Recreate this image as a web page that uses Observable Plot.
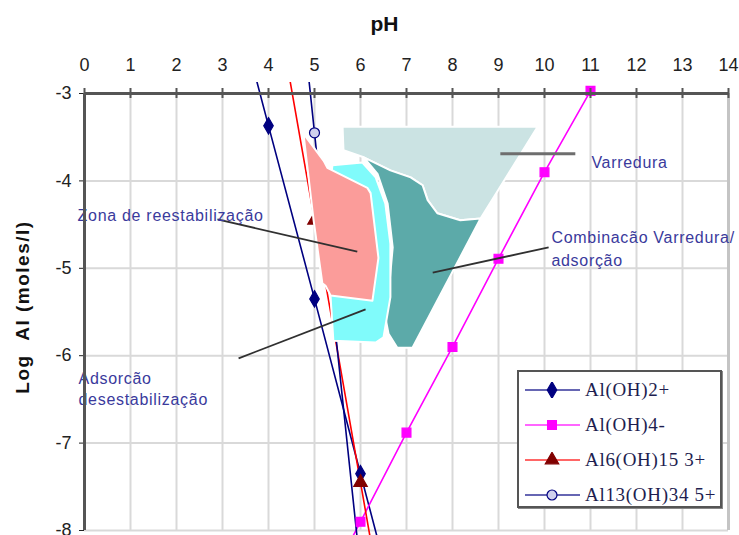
<!DOCTYPE html>
<html>
<head>
<meta charset="utf-8">
<script src="https://cdn.jsdelivr.net/npm/d3@7"></script>
<script src="https://cdn.jsdelivr.net/npm/@observablehq/plot@0.6"></script>
<style>
  body { margin: 0; background: #fff; }
  #chart { position: relative; width: 739px; height: 535px; }
  #legend {
    position: absolute; left: 517px; top: 370px; width: 205px; height: 138px;
    box-sizing: border-box; border: 2px solid #555; box-shadow: 1px 1px 0 #888;
    background: #fff; font-family: "Liberation Serif", "Times New Roman", serif;
    font-size: 19px; letter-spacing: 0.7px; color: #1e1e50; white-space: nowrap; overflow: hidden;
  }
  #legend .item { display: flex; align-items: center; height: 35px; }
  #legend svg { margin-left: 6px; margin-right: 5px; flex: none; }
</style>
</head>
<body>
<div id="chart"></div>
<script>
// Axis ticks
const xTicks = [0, 1, 2, 3, 4, 5, 6, 7, 8, 9, 10, 11, 12, 13, 14];
const yTicks = [-3, -4, -5, -6, -7, -8];

// Aluminium species solubility lines (pH, log Al)
const seriesNames = ["Al(OH)2+", "Al(OH)4-", "Al6(OH)15 3+", "Al13(OH)34 5+"];
const phAlOH2 = [3, 4, 5, 6, 7];
const logAlOH2 = [-1.37, -3.37, -5.35, -7.35, -9.35];
const phAlOH4 = [5, 6, 7, 8, 9, 10, 11];
const logAlOH4 = [-8.9, -7.9, -6.88, -5.9, -4.89, -3.9, -2.97];
const phAl6 = [4, 5, 6, 7];
const logAl6 = [-1.45, -4.45, -7.45, -10.45];
const phAl13 = [4, 5, 6];
const logAl13 = [1.55, -3.45, -8.45];

// Coagulation zones (outlines in pH, log Al)
const sweepPH = [5.61, 9.85, 8.61, 8.17, 7.67, 7.46, 7.35, 7.09, 6.65, 6.07, 5.63];
const sweepLog = [-3.38, -3.38, -4.43, -4.45, -4.37, -4.22, -4.05, -3.96, -3.88, -3.73, -3.65];
const combinedPH = [6.07, 6.65, 7.09, 7.35, 7.46, 7.67, 8.17, 8.61, 7.13, 6.80, 6.61, 6.54, 6.61, 6.70, 6.59, 6.37];
const combinedLog = [-3.73, -3.88, -3.96, -4.05, -4.22, -4.37, -4.45, -4.43, -5.91, -5.91, -5.75, -5.56, -5.29, -4.76, -4.26, -3.92];
const adsorptionPH = [5.39, 6.04, 6.33, 6.54, 6.65, 6.65, 6.50, 6.33, 5.41, 5.35, 5.30];
const adsorptionLog = [-3.82, -3.79, -3.96, -4.26, -4.72, -5.33, -5.79, -5.85, -5.83, -5.33, -4.22];
const restabPH = [4.76, 5.20, 5.28, 6.15, 6.22, 6.39, 6.26, 5.35, 5.24, 5.17, 4.98];
const restabLog = [-3.46, -3.77, -3.85, -4.08, -4.14, -4.88, -5.37, -5.31, -5.20, -5.17, -4.45];

// Zone labels and their leader lines
const labelTexts = ["Varredura", "Combinacão Varredura/", "adsorção", "Zona de reestabilização", "Adsorcão", "desestabilização"];
const labelPH = [11.02, 10.15, 10.15, -0.15, -0.13, -0.13];
const labelLog = [-3.79, -4.65, -4.91, -4.40, -6.27, -6.51];
const leaderPH1 = [9.04, 7.57, 2.89, 3.35];
const leaderLog1 = [-3.69, -5.05, -4.44, -6.03];
const leaderPH2 = [10.67, 10.09, 5.93, 6.11];
const leaderLog2 = [-3.69, -4.76, -4.81, -5.47];

const rows = (xs, ys) => xs.map((x, i) => ({x, y: ys[i]}));
const visible = d => d.y >= -8.15 && d.y <= -2.85;

const series = [
  {name: seriesNames[0], data: rows(phAlOH2, logAlOH2), line: "#000080", symbol: "diamond", fill: "#000080", stroke: "#000080"},
  {name: seriesNames[1], data: rows(phAlOH4, logAlOH4), line: "#ff00ff", symbol: "square", fill: "#ff00ff", stroke: "#ff00ff"},
  {name: seriesNames[2], data: rows(phAl6, logAl6), line: "#ff0000", symbol: "triangle", fill: "#800000", stroke: "#800000"},
  {name: seriesNames[3], data: rows(phAl13, logAl13), line: "#000080", symbol: "circle", fill: "#d0d0ee", stroke: "#000080"}
];

const zones = [
  {data: rows(sweepPH, sweepLog), fill: "#cbe3e3"},
  {data: rows(combinedPH, combinedLog), fill: "#5caaa9"},
  {data: rows(adsorptionPH, adsorptionLog), fill: "#80fbfb"},
  {data: rows(restabPH, restabLog), fill: "#fb9c9a"}
];

const labels = labelTexts.map((t, i) => ({t, x: labelPH[i], y: labelLog[i]}));
const leaders = leaderPH1.map((x1, i) => ({x1, y1: leaderLog1[i], x2: leaderPH2[i], y2: leaderLog2[i]}));

const plot = Plot.plot({
  width: 739,
  height: 535,
  marginLeft: 84,
  marginRight: 11,
  marginTop: 93,
  marginBottom: 5,
  style: {fontFamily: "'Liberation Sans', Arial, sans-serif", fontSize: "18px", color: "#222", background: "#fff"},
  x: {domain: [0, 14], axis: "top", ticks: xTicks, tickSize: 0, tickPadding: 23, label: null, tickFormat: d => String(d)},
  y: {domain: [-8, -3], ticks: yTicks, tickSize: 5, tickPadding: 8, label: null, tickFormat: d => String(d)},
  marks: [
    // grid
    Plot.ruleX(xTicks, {x: d => d, stroke: "#d9d9d9", strokeWidth: 2}),
    Plot.ruleY(yTicks, {y: d => d, stroke: "#d9d9d9", strokeWidth: 2}),
    Plot.ruleX([14], {x: d => d, stroke: "#c4c4c4", strokeWidth: 3}),
    // species lines and markers
    ...series.map(s => Plot.line(s.data, {x: "x", y: "y", stroke: s.line, strokeWidth: 1.6, clip: true})),
    ...series.map(s => Plot.dot(s.data.filter(visible), {x: "x", y: "y", symbol: s.symbol, r: 5, fill: s.fill, stroke: s.stroke, strokeWidth: 1.2})),
    // coagulation zones
    ...zones.map(z => Plot.line(z.data, {x: "x", y: "y", curve: "linear-closed", fill: z.fill, stroke: "#fff", strokeWidth: 2})),
    // leader lines and zone labels
    Plot.link(leaders.slice(0, 1), {x1: "x1", y1: "y1", x2: "x2", y2: "y2", stroke: "#6e6e6e", strokeWidth: 3}),
    Plot.link(leaders.slice(1), {x1: "x1", y1: "y1", x2: "x2", y2: "y2", stroke: "#303030", strokeWidth: 1.8}),
    Plot.text(labels, {x: "x", y: "y", text: "t", textAnchor: "start", fill: "#3a3a9c", fontSize: 16}),
    // axis lines and top ticks
    Plot.ruleY([-3], {y: d => d, stroke: "#555", strokeWidth: 3}),
    Plot.ruleX([0], {x: d => d, stroke: "#555", strokeWidth: 3}),
    Plot.ruleX(xTicks, {x: d => d, y1: -3, y2: -3, insetTop: -5, insetBottom: -5, stroke: "#555", strokeWidth: 2}),
    // axis titles
    Plot.text(["pH"], {frameAnchor: "top", textAnchor: "middle", lineAnchor: "middle", dx: -22, dy: -69, fontWeight: "bold", fontSize: 21, fill: "#111"}),
    Plot.text(["Log\u00A0\u00A0Al (moles/l)"], {frameAnchor: "left", textAnchor: "middle", lineAnchor: "middle", dx: -62, dy: -5, rotate: -90, fontWeight: "bold", fontSize: 19, fill: "#111"})
  ]
});

// let the species lines run slightly past the frame edges
plot.querySelectorAll("clipPath rect").forEach(r => {
  r.setAttribute("y", +r.getAttribute("y") - 11);
  r.setAttribute("height", +r.getAttribute("height") + 16);
});
// letter spacing for the zone labels and the axis title
plot.querySelectorAll("text").forEach(t => {
  if (labelTexts.includes(t.textContent)) t.setAttribute("letter-spacing", "0.7");
  if (t.textContent.startsWith("Log")) t.setAttribute("letter-spacing", "1.5");
});

const chart = document.getElementById("chart");
chart.appendChild(plot);

// legend
const legend = document.createElement("div");
legend.id = "legend";
const ns = "http://www.w3.org/2000/svg";
series.forEach(s => {
  const item = document.createElement("div");
  item.className = "item";
  const sw = document.createElementNS(ns, "svg");
  sw.setAttribute("width", 55);
  sw.setAttribute("height", 16);
  const ln = document.createElementNS(ns, "line");
  ln.setAttribute("x1", 0); ln.setAttribute("x2", 55);
  ln.setAttribute("y1", 8); ln.setAttribute("y2", 8);
  ln.setAttribute("stroke", s.line); ln.setAttribute("stroke-width", 2); ln.setAttribute("stroke-opacity", 0.6);
  sw.appendChild(ln);
  const sym = d3.symbol().type({diamond: d3.symbolDiamond, square: d3.symbolSquare, triangle: d3.symbolTriangle, circle: d3.symbolCircle}[s.symbol]).size(78);
  const p = document.createElementNS(ns, "path");
  p.setAttribute("d", sym());
  p.setAttribute("transform", "translate(27,8)");
  p.setAttribute("fill", s.fill); p.setAttribute("stroke", s.stroke); p.setAttribute("stroke-width", 1.2);
  sw.appendChild(p);
  item.appendChild(sw);
  const tx = document.createElement("span");
  tx.textContent = s.name;
  item.appendChild(tx);
  legend.appendChild(item);
});
chart.appendChild(legend);
</script>
</body>
</html>
